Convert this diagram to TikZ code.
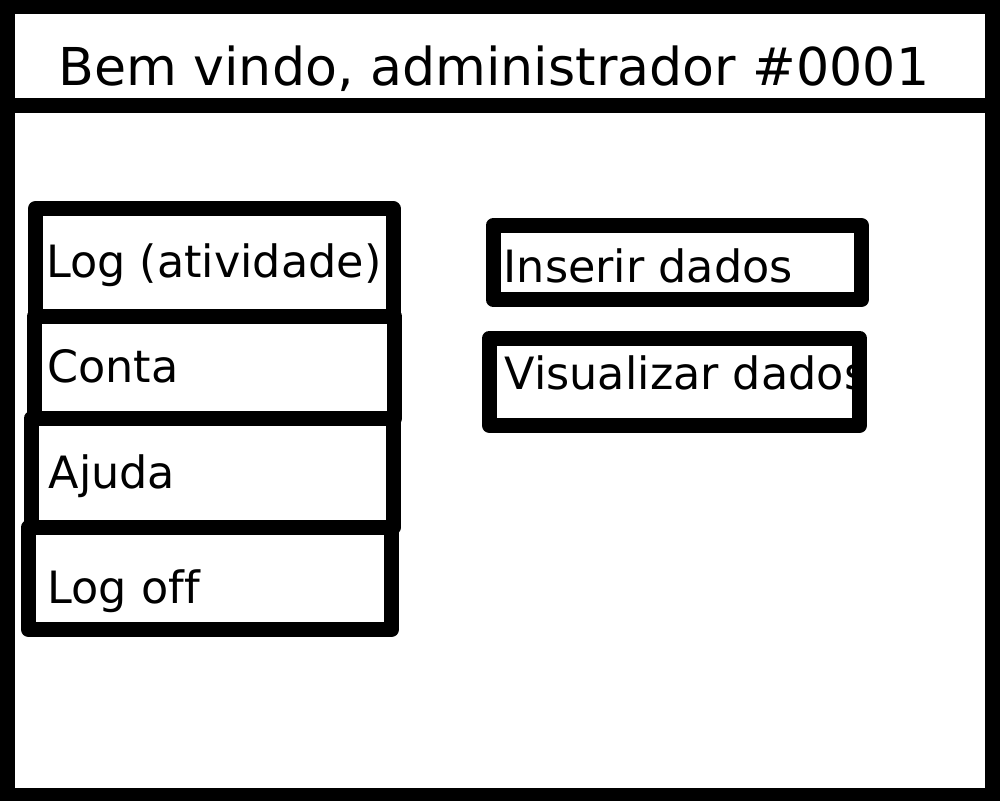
\documentclass[tikz,border=0pt]{standalone}
\usepackage{fontspec}
\setmainfont[Ligatures=NoCommon]{DejaVu Sans}
\begin{document}
\begin{tikzpicture}[x=1pt,y=-1pt,
  frame/.style={line width=14.5pt,line join=miter},
  menubox/.style={line width=15pt,line join=round},
  label/.style={anchor=base west,inner sep=0pt,font=\fontsize{44.5}{50}\selectfont},
  title/.style={anchor=base west,inner sep=0pt,font=\fontsize{52.2}{58}\selectfont}]
\useasboundingbox (0,0) rectangle (1000,800);
\fill[white] (0,0) rectangle (1000,800);
% outer window and header separator
\draw[frame] (7.5,7) rectangle (992.5,795);
\draw[line width=15pt] (0,105.5) -- (1000,105.5);
\node[title] (titletext) at (58,85) {Bem vindo, administrador \#0001};
% left menu
\node[label] (log) at (46,277) {Log (atividade)};
\node[label] (conta) at (47,382) {Conta};
\node[label] (ajuda) at (48.5,488) {Ajuda};
\node[label] (logoff) at (47.5,603) {Log off};
\draw[menubox] (35.5,208.5) rectangle (393,316);
\draw[menubox] (34.5,316) rectangle (394.5,418.5);
\draw[menubox] (31,418.5) rectangle (393.5,527);
\draw[menubox] (28.5,527) rectangle (391.5,629.5);
% right actions
\node[label] (inserir) at (503.5,282) {Inserir dados};
\begin{scope}
\clip (497,346) rectangle (852,418);
\node[label] (visualizar) at (504.5,389) {Visualizar dados};
\end{scope}
\draw[menubox] (493,225.5) rectangle (861.5,299.5);
\draw[menubox] (489.5,338) rectangle (859.5,425.5);
\end{tikzpicture}
\end{document}
